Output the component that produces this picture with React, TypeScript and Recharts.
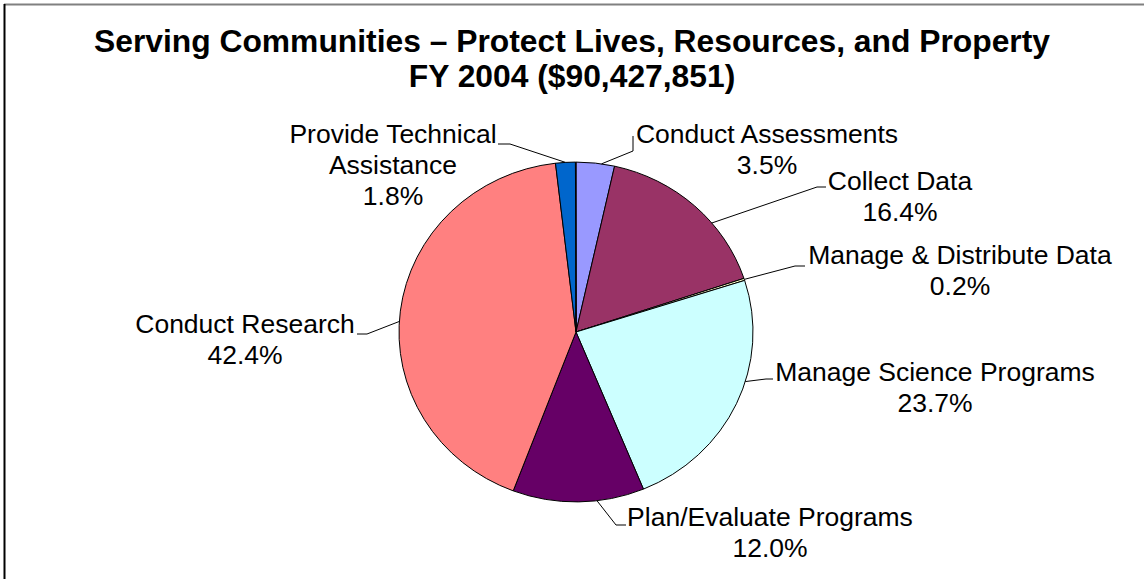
import React from 'react';
import { PieChart, Pie, Cell, Sector } from 'recharts';

const categories = [
  'Conduct Assessments',
  'Collect Data',
  'Manage & Distribute Data',
  'Manage Science Programs',
  'Plan/Evaluate Programs',
  'Conduct Research',
  'Provide Technical Assistance',
  'Other',
];
const shares = [3.5, 16.4, 0.2, 23.7, 12.0, 42.4, 1.8, 0.05];
const labelTexts = [
  ['Conduct Assessments'],
  ['Collect Data'],
  ['Manage & Distribute Data'],
  ['Manage Science Programs'],
  ['Plan/Evaluate Programs'],
  ['Conduct Research'],
  ['Provide Technical', 'Assistance'],
  [],
];
const titleLines = ['Serving Communities \u2013 Protect Lives, Resources, and Property', 'FY 2004 ($90,427,851)'];

const colors = ['#9999FF', '#993366', '#FFFFCC', '#CCFFFF', '#660066', '#FF8080', '#0066CC', '#FFFFFF'];

// label layout relative to pie centre: text centre, elbow, end of leader, leader anchor angle shift (deg)
const labelLayout = [
  { tx: 191, ty: -198, ex: 57, ey: -181, lx: 57, ly: -196, da: 2 },
  { tx: 324, ty: -151, ex: 241, ey: -145, lx: 250, ly: -145, da: 8 },
  { tx: 384, ty: -77, ex: 219, ey: -66, lx: 229, ly: -66, da: 0 },
  { tx: 359, ty: 40, ex: 190, ey: 47, lx: 197, ly: 47, da: -8 },
  { tx: 194, ty: 185, ex: 40, ey: 193, lx: 50, ly: 193, da: -6 },
  { tx: -331, ty: -8, ex: -209, ey: 2, lx: -219, ly: 2, da: -3.5 },
  { tx: -183, ty: -198, ex: -66, ey: -188, lx: -78, ly: -188, da: 0 },
  null,
];

const data = categories.map((name, i) => ({ name, value: shares[i] }));

const W = 1144;
const H = 579;
const CX = 576;
const CY = 332;
const R = 177;
const KY = 0.96; // vertical squash of the pie
const FONT = '"Liberation Sans", Arial, sans-serif';
const LABEL_SIZE = 26.5;
const LINE_GAP = 31;
const RADIAN = Math.PI / 180;

const renderShape = (props: any) => {
  const { cy } = props;
  return (
    <g transform={`translate(0,${cy}) scale(1,${KY}) translate(0,${-cy})`}>
      <Sector {...props} vectorEffect="non-scaling-stroke" />
    </g>
  );
};

const renderLabel = (props: any) => {
  const { cx, cy, midAngle, outerRadius, index } = props;
  const lay = labelLayout[index];
  if (!lay) return null;
  const a = midAngle - lay.da;
  const sx = cx + outerRadius * Math.cos(-a * RADIAN);
  const sy = cy + outerRadius * KY * Math.sin(-a * RADIAN);
  const lines = [...labelTexts[index], `${shares[index].toFixed(1)}%`];
  return (
    <g key={`lbl-${index}`}>
      <polyline
        points={`${sx},${sy} ${cx + lay.ex},${cy + lay.ey} ${cx + lay.lx},${cy + lay.ly}`}
        fill="none"
        stroke="#000"
        strokeWidth={1}
      />
      {lines.map((t, j) => (
        <text
          key={j}
          x={cx + lay.tx}
          y={cy + lay.ty + j * LINE_GAP}
          textAnchor="middle"
          dominantBaseline="central"
          fontFamily={FONT}
          fontSize={LABEL_SIZE}
          fill="#000"
        >
          {t}
        </text>
      ))}
    </g>
  );
};

export default function App() {
  return (
    <div style={{ position: 'absolute', left: 0, top: 0, width: W, height: H, background: '#fff' }}>
      <PieChart width={W} height={H} margin={{ top: 0, right: 0, bottom: 0, left: 0 }}>
        <Pie
          data={data}
          dataKey="value"
          nameKey="name"
          cx={CX}
          cy={CY}
          outerRadius={R}
          startAngle={90}
          endAngle={-270}
          stroke="#000"
          strokeWidth={1}
          shape={renderShape}
          label={renderLabel}
          labelLine={false}
          isAnimationActive={false}
        >
          {data.map((d, i) => (
            <Cell key={d.name} fill={colors[i]} />
          ))}
        </Pie>
      </PieChart>
      <svg width={W} height={H} style={{ position: 'absolute', left: 0, top: 0, pointerEvents: 'none' }}>
        <line x1={4} y1={4.5} x2={W} y2={4.5} stroke="#808080" strokeWidth={2} />
        <line x1={4.5} y1={4} x2={4.5} y2={H} stroke="#000" strokeWidth={2} />
        {titleLines.map((t, i) => (
          <text
            key={i}
            x={572}
            y={52 + i * 35}
            textAnchor="middle"
            fontFamily={FONT}
            fontWeight="bold"
            fontSize={31.8}
            fill="#000"
          >
            {t}
          </text>
        ))}
      </svg>
    </div>
  );
}
